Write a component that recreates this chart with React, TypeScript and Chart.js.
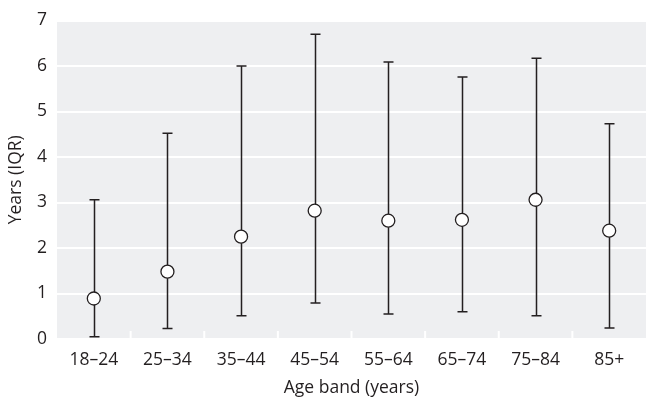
import React, { useEffect, useRef } from 'react';
import { Chart, registerables } from 'chart.js';

Chart.register(...registerables);

const categories = ['18–24', '25–34', '35–44', '45–54', '55–64', '65–74', '75–84', '85+'];
const medians = [0.89, 1.48, 2.25, 2.82, 2.6, 2.62, 3.06, 2.38];
const lowerQ = [0.05, 0.23, 0.51, 0.79, 0.55, 0.6, 0.51, 0.24];
const upperQ = [3.06, 4.52, 6.0, 6.7, 6.09, 5.76, 6.17, 4.73];
const yMin = 0;
const yMax = 7;
const xTitle = 'Age band (years)';
const yTitle = 'Years (IQR)';

const FONT = "'Open Sans', sans-serif";
const TEXT = '#231f20';
const INK = '#231f20';
const PANEL = '#eeeff1';

const panelPlugin = {
  id: 'panelBg',
  beforeDraw(chart: any) {
    const { ctx, chartArea } = chart;
    ctx.save();
    ctx.fillStyle = PANEL;
    ctx.fillRect(chartArea.left, chartArea.top, chartArea.right - chartArea.left, chartArea.bottom - chartArea.top);
    ctx.restore();
  },
};

const whiskerPlugin = {
  id: 'whiskers',
  beforeDatasetsDraw(chart: any) {
    const { ctx, scales, chartArea } = chart;
    const xs = scales.x;
    const ys = scales.y;
    ctx.save();
    // white band ticks at category boundaries
    ctx.strokeStyle = '#ffffff';
    ctx.lineWidth = 2;
    for (let i = 0; i < categories.length - 1; i++) {
      const bx = xs.getPixelForValue(i + 0.5);
      ctx.beginPath();
      ctx.moveTo(bx, chartArea.bottom);
      ctx.lineTo(bx, chartArea.bottom - 8);
      ctx.stroke();
    }
    // whiskers
    ctx.strokeStyle = INK;
    ctx.lineWidth = 1.5;
    for (let i = 0; i < categories.length; i++) {
      const x = Math.round(xs.getPixelForValue(i)) + 0.5;
      const yl = ys.getPixelForValue(lowerQ[i]);
      const yu = ys.getPixelForValue(upperQ[i]);
      ctx.beginPath();
      ctx.moveTo(x, yl);
      ctx.lineTo(x, yu);
      ctx.moveTo(x - 5, yu);
      ctx.lineTo(x + 5, yu);
      ctx.moveTo(x - 5, yl);
      ctx.lineTo(x + 5, yl);
      ctx.stroke();
    }
    ctx.restore();
  },
};

export default function App() {
  const canvasRef = useRef<HTMLCanvasElement | null>(null);

  useEffect(() => {
    if (!canvasRef.current) return;
    const chart = new Chart(canvasRef.current, {
      type: 'line',
      data: {
        labels: categories,
        datasets: [
          {
            data: medians,
            showLine: false,
            pointRadius: 6.5,
            pointHoverRadius: 6.5,
            pointBackgroundColor: '#ffffff',
            pointBorderColor: INK,
            pointBorderWidth: 1.3,
          },
        ],
      },
      options: {
        animation: false,
        responsive: true,
        maintainAspectRatio: false,
        layout: { autoPadding: false, padding: { top: 19, left: 0, right: 0, bottom: 0 } },
        plugins: {
          legend: { display: false },
          tooltip: { enabled: false },
        },
        scales: {
          x: {
            type: 'category',
            offset: true,
            grid: { display: false },
            border: { display: false },
            ticks: { color: TEXT, font: { family: FONT, size: 17.5 }, padding: 3, maxRotation: 0 },
            title: {
              display: true,
              text: xTitle,
              color: TEXT,
              font: { family: FONT, size: 17.5 },
              padding: { top: 0, bottom: 0 },
            },
            afterFit(scale: any) {
              scale.height = 60;
              scale.paddingLeft = 0;
              scale.paddingRight = 0;
            },
          },
          y: {
            min: yMin,
            max: yMax,
            ticks: { stepSize: 1, color: TEXT, font: { family: FONT, size: 17.5 }, padding: 10 },
            grid: { color: '#ffffff', lineWidth: 2, drawTicks: false },
            border: { display: false },
            title: {
              display: true,
              text: yTitle,
              color: TEXT,
              font: { family: FONT, size: 17.5 },
              padding: { top: 6, bottom: 0 },
            },
            afterFit(scale: any) {
              scale.width = 57;
            },
          },
        },
      },
      plugins: [panelPlugin, whiskerPlugin],
    } as any);
    return () => chart.destroy();
  }, []);

  return (
    <div style={{ position: 'fixed', left: 0, top: 0, width: 646, height: 399, background: '#ffffff' }}>
      <canvas ref={canvasRef} />
    </div>
  );
}
